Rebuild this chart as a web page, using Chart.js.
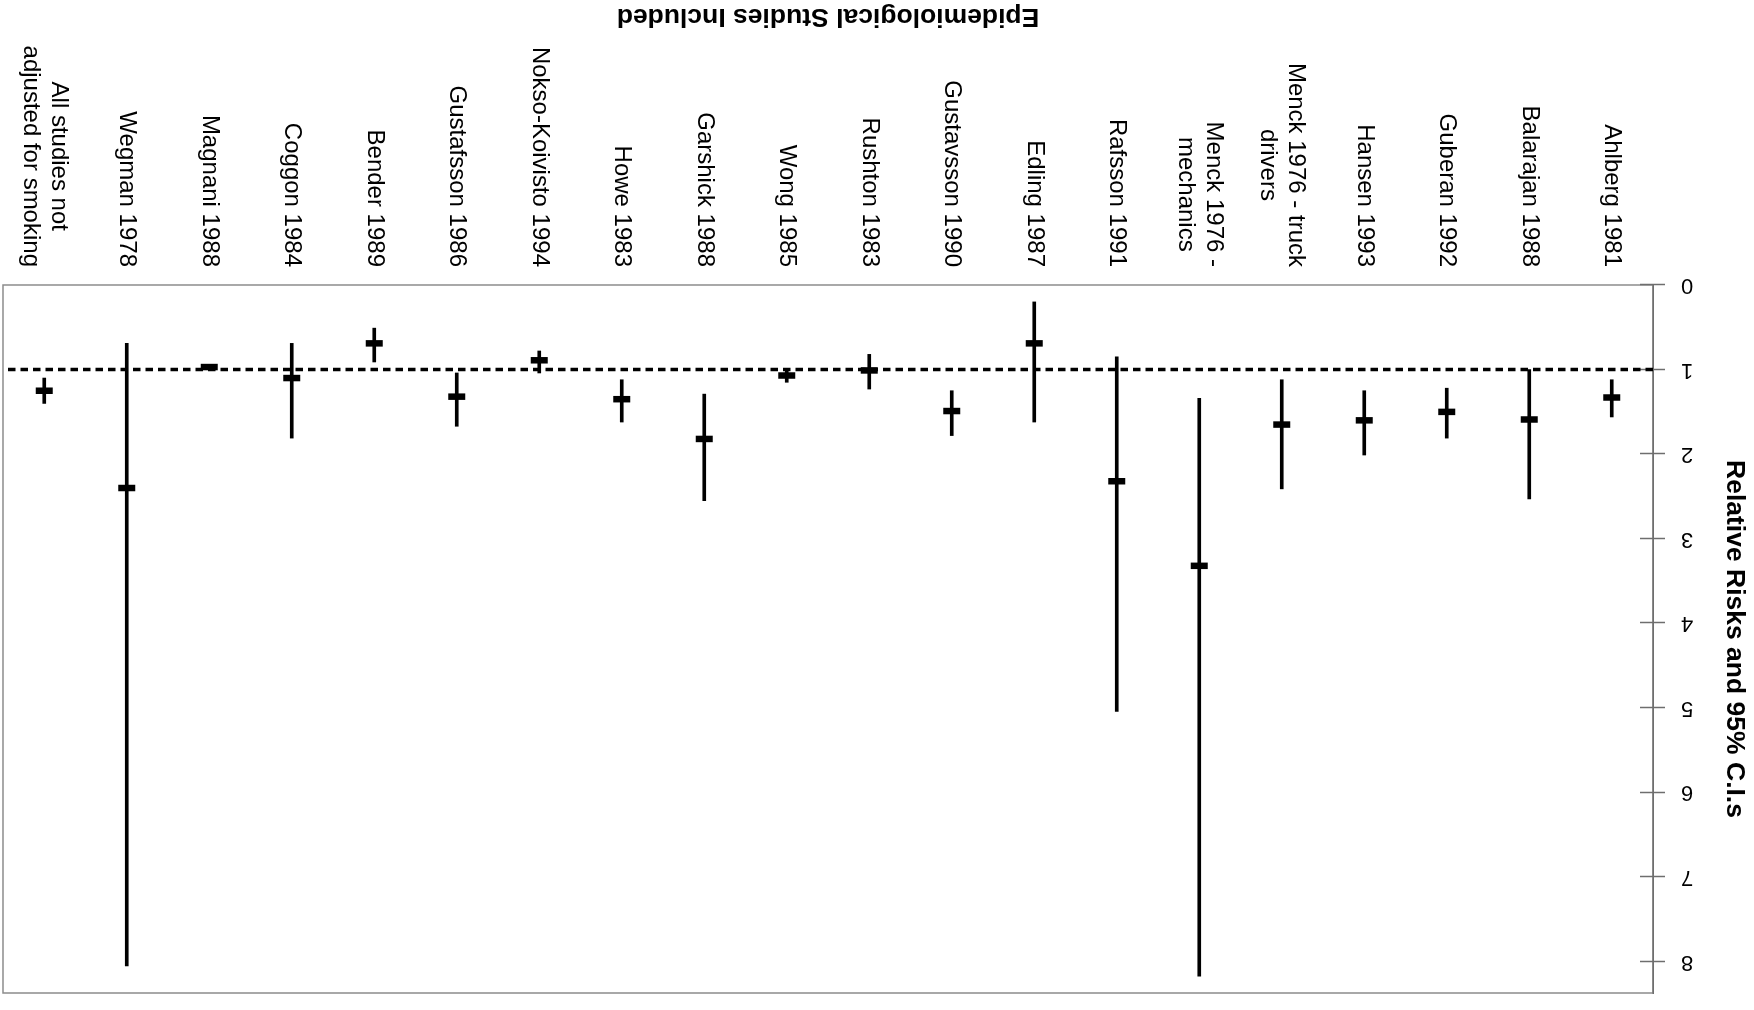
<!DOCTYPE html>
<html>
<head>
<meta charset="utf-8">
<title>Relative risks by study</title>
<script src="https://cdn.jsdelivr.net/npm/chart.js@4/dist/chart.umd.min.js"></script>
<style>
  html, body { margin: 0; padding: 0; background: #fff; overflow: hidden; }
  /* the figure is presented turned half a revolution */
  #wrap { position: absolute; left: 0; top: 0; width: 1754px; height: 1010px; transform: rotate(180deg); }
  canvas { display: block; }
</style>
</head>
<body>
<div id="wrap"><canvas id="chart" width="1754" height="1010"></canvas></div>
<script>
// Study names (each entry lists the lines of its label)
const studies = [
  ['Ahlberg 1981'],
  ['Balarajan 1988'],
  ['Guberan 1992'],
  ['Hansen 1993'],
  ['Menck 1976 - truck', 'drivers'],
  ['Menck 1976 -', 'mechanics'],
  ['Rafsson 1991'],
  ['Edling 1987'],
  ['Gustavsson 1990'],
  ['Rushton 1983'],
  ['Wong 1985'],
  ['Garshick 1988'],
  ['Howe 1983'],
  ['Nokso-Koivisto 1994'],
  ['Gustafsson 1986'],
  ['Bender 1989'],
  ['Coggon 1984'],
  ['Magnani 1988'],
  ['Wegman 1978'],
  ['All studies not', 'adjusted for smoking']
];

// Point estimates of the relative risk
const relativeRisk = [1.33, 1.59, 1.50, 1.60, 1.65, 3.32, 2.32, 0.69, 1.49, 1.01,
                      1.07, 1.82, 1.35, 0.89, 1.32, 0.69, 1.10, 0.97, 2.40, 1.25];
// Lower and upper 95% confidence limits
const ciLower = [1.12, 1.00, 1.22, 1.25, 1.12, 1.34, 0.85, 0.20, 1.25, 0.82,
                 1.01, 1.29, 1.12, 0.78, 1.04, 0.51, 0.69, 0.95, 0.69, 1.10];
const ciUpper = [1.56, 2.53, 1.81, 2.01, 2.41, 8.17, 5.04, 1.62, 1.78, 1.23,
                 1.15, 2.55, 1.62, 1.04, 1.67, 0.91, 1.81, 0.99, 8.05, 1.40];

// Value axis ticks and the no-effect reference level
const riskTicks = [0, 1, 2, 3, 4, 5, 6, 7, 8];
const riskAxisMax = 8.37;
const referenceRisk = 1;

const FONT = "'Liberation Sans', Arial, Helvetica, sans-serif";

// keep the plot area fixed: scales get no extra edge padding for their labels
function noEdgePadding(s) {
  s.paddingTop = 0;
  s.paddingBottom = 0;
  s.paddingLeft = 0;
  s.paddingRight = 0;
}

// Plot frame plus tick marks that cross the value axis
const framePlugin = {
  id: 'frame',
  beforeDraw(chart) {
    const { ctx, chartArea: a, scales: { y } } = chart;
    ctx.save();
    ctx.strokeStyle = '#8c8c8c';
    ctx.lineWidth = 1.5;
    ctx.strokeRect(a.left, a.top, a.right - a.left, a.bottom - a.top);
    ctx.strokeStyle = '#6e6e6e';
    riskTicks.forEach(v => {
      const py = Math.round(y.getPixelForValue(v)) + 0.5;
      ctx.beginPath();
      ctx.moveTo(a.left - 12, py);
      ctx.lineTo(a.left + 13, py);
      ctx.stroke();
    });
    ctx.restore();
  },
  beforeDatasetsDraw(chart) {
    const { ctx, chartArea: a, scales: { y } } = chart;
    const py = y.getPixelForValue(referenceRisk);
    ctx.save();
    ctx.strokeStyle = '#000';
    ctx.lineWidth = 3.5;
    ctx.setLineDash([7.5, 5]);
    ctx.beginPath();
    ctx.moveTo(a.left, py);
    ctx.lineTo(a.right, py);
    ctx.stroke();
    ctx.restore();
  }
};

// Vertical study labels, lines centred on one another, ending just under the plot
const studyLabelPlugin = {
  id: 'studyLabels',
  afterDraw(chart) {
    const { ctx, chartArea: a, scales: { x } } = chart;
    ctx.save();
    ctx.font = '24px ' + FONT;
    ctx.fillStyle = '#000';
    ctx.textAlign = 'center';
    ctx.textBaseline = 'middle';
    studies.forEach((lines, i) => {
      const px = x.getPixelForValue(i);
      const w = Math.max(...lines.map(t => ctx.measureText(t).width));
      ctx.save();
      ctx.translate(px, a.bottom + 18 + w / 2);
      ctx.rotate(-Math.PI / 2);
      lines.forEach((t, k) => ctx.fillText(t, 0, (k - (lines.length - 1) / 2) * 28));
      ctx.restore();
    });
    ctx.restore();
  }
};

new Chart(document.getElementById('chart'), {
  type: 'bar',
  data: {
    labels: studies.map(s => s.join(' ')),
    datasets: [
      {
        type: 'line',
        label: 'Relative risk',
        data: relativeRisk,
        showLine: false,
        pointStyle: 'line',
        pointRadius: 8.5,
        pointHoverRadius: 8.5,
        pointBorderWidth: 6.5,
        pointBorderColor: '#000',
        pointBackgroundColor: '#000',
        borderColor: '#000',
        order: 0
      },
      {
        type: 'bar',
        label: '95% C.I.',
        data: ciLower.map((lo, i) => [lo, ciUpper[i]]),
        backgroundColor: '#000',
        borderWidth: 0,
        barThickness: 3,
        order: 1
      }
    ]
  },
  options: {
    responsive: false,
    animation: false,
    events: [],
    layout: { autoPadding: false, padding: { top: 17, right: 3, bottom: 0, left: 0 } },
    plugins: { legend: { display: false }, tooltip: { enabled: false } },
    scales: {
      x: {
        grid: { display: false },
        border: { display: false },
        ticks: { display: false },
        title: {
          display: true,
          text: 'Epidemiological Studies Included',
          color: '#000',
          font: { family: FONT, size: 26.5, weight: 'bold' },
          padding: { top: 0, bottom: 0 }
        },
        afterFit: s => { s.height = 285; noEdgePadding(s); }
      },
      y: {
        min: 0,
        max: riskAxisMax,
        grid: { display: false },
        border: { display: true, color: '#6e6e6e', width: 1.5 },
        ticks: { padding: 20, color: '#000', font: { family: FONT, size: 22 } },
        afterBuildTicks: s => { s.ticks = riskTicks.map(v => ({ value: v })); },
        title: {
          display: true,
          text: 'Relative Risks and 95% C.I.s',
          color: '#000',
          font: { family: FONT, size: 26.5, weight: 'bold' },
          padding: { top: 4, bottom: 0 }
        },
        afterFit: s => { s.width = 101; noEdgePadding(s); }
      }
    }
  },
  plugins: [framePlugin, studyLabelPlugin]
});
</script>
</body>
</html>
